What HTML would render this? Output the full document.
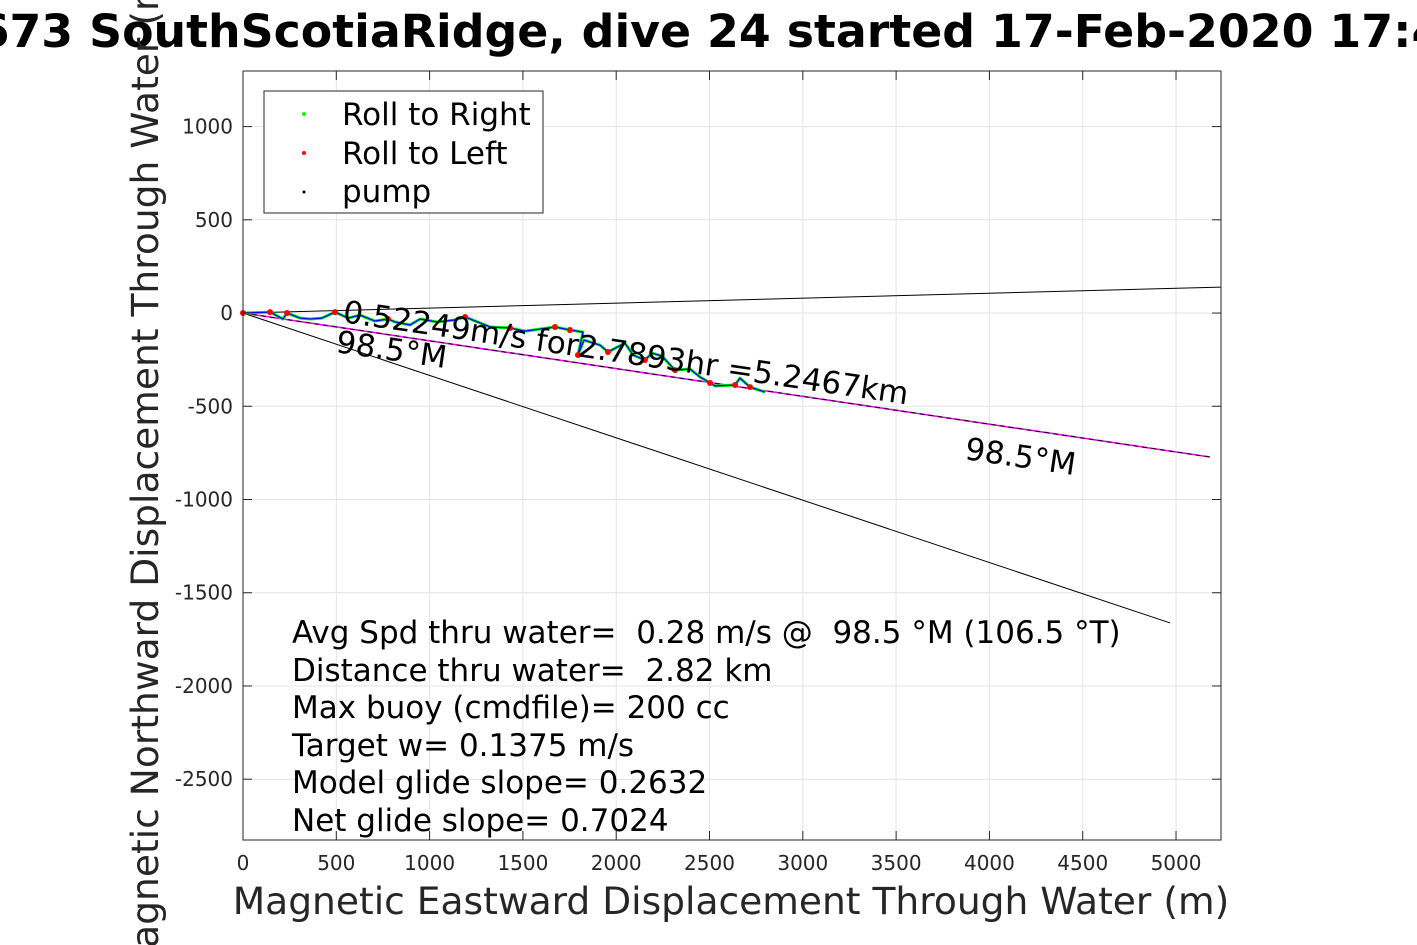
<!DOCTYPE html>
<html><head><meta charset="utf-8"><style>
html,body{margin:0;padding:0;background:#fff;overflow:hidden;}
svg{display:block;font-family:"DejaVu Sans","Liberation Sans",sans-serif;}
.pre{white-space:pre;}
</style></head><body>
<svg id="chart" width="1417" height="945" viewBox="0 0 1417 945">
<g id="grid"></g>
<g id="lines"></g>
<g id="track"></g>
<rect x="243" y="71" width="978" height="769" fill="none" stroke="#262626" stroke-width="1"/>
<g id="xticks"></g>
<g id="yticks"></g>
<text x="-93" y="47" font-size="45.8" font-weight="bold">SG673 SouthScotiaRidge, dive 24 started 17-Feb-2020 17:42</text>
<text x="731" y="914" font-size="37.6" fill="#262626" text-anchor="middle">Magnetic Eastward Displacement Through Water (m)</text>
<text transform="translate(158,470) rotate(-90)" font-size="37.6" fill="#262626" text-anchor="middle">Magnetic Northward Displacement Through Water (m)</text>
<text transform="translate(342,322) rotate(8.3)" font-size="31">0.52249m/s for2.7893hr =5.2467km</text>
<text transform="translate(335,352) rotate(8.3)" font-size="31">98.5°M</text>
<text transform="translate(964,459) rotate(8.3)" font-size="31">98.5°M</text>
<g>
<rect x="264" y="91" width="279" height="122" fill="#fff" stroke="#262626" stroke-width="1"/>
<circle cx="304" cy="114" r="2" fill="#0f0"/>
<text x="342" y="125" font-size="31">Roll to Right</text>
<circle cx="304" cy="153" r="2" fill="#f00"/>
<text x="342" y="164" font-size="31">Roll to Left</text>
<circle cx="304" cy="192" r="1.5" fill="#000"/>
<text x="342" y="202" font-size="31">pump</text>
</g>
<g font-size="31" class="pre">
<text x="292" y="643" class="pre">Avg Spd thru water=  0.28 m/s @  98.5 °M (106.5 °T)</text>
<text x="292" y="681" class="pre">Distance thru water=  2.82 km</text>
<text x="292" y="718" class="pre">Max buoy (cmdfile)= 200 cc</text>
<text x="292" y="756" class="pre">Target w= 0.1375 m/s</text>
<text x="292" y="793" class="pre">Model glide slope= 0.2632</text>
<text x="292" y="831" class="pre">Net glide slope= 0.7024</text>
</g>
</svg>
<script>
const xTicks=[0,500,1000,1500,2000,2500,3000,3500,4000,4500,5000];
const yTicks=[1000,500,0,-500,-1000,-1500,-2000,-2500];
const trackX=[0,145,214,236,305,359,423,493,563,627,707,777,815,895,949,1040,1136,1190,1324,1431,1511,1672,1752,1822,1795,1827,1913,1956,2047,2090,2154,2192,2245,2315,2395,2449,2503,2530,2637,2663,2717,2797];
const trackY=[0,5,-32,0,-27,-32,-27,5,-27,-11,-43,-32,-48,-64,-32,-48,-37,-21,-75,-80,-97,-75,-91,-102,-225,-145,-172,-209,-161,-225,-252,-215,-231,-306,-300,-343,-375,-391,-386,-349,-397,-424];
const redIdx=[0,1,3,7,11,17,19,21,22,24,27,30,33,36,38,40];
const lineEnds=[[5241,139],[5182,-772],[4968,-1662]];
const NS="http://www.w3.org/2000/svg";
const X0=243,X1=1221,Y0=840,Y1=71,xmin=0,xmax=5241,ymin=-2826,ymax=1298;
const sx=v=>X0+(v-xmin)/(xmax-xmin)*(X1-X0);
const sy=v=>Y0-(v-ymin)/(ymax-ymin)*(Y0-Y1);
function mk(t,a,p){const e=document.createElementNS(NS,t);for(const k in a)e.setAttribute(k,a[k]);p.appendChild(e);return e;}
const grid=document.getElementById('grid'),xt=document.getElementById('xticks'),yt=document.getElementById('yticks');
xTicks.forEach(v=>{
 const g=mk('line',{x1:sx(v),x2:sx(v),y1:Y1,y2:Y0,stroke:'#e3e3e3'},grid);
 
 
 const tk=mk('line',{x1:sx(v),x2:sx(v),y1:Y0,y2:Y0-9,stroke:'#262626'},xt);
 
 
 const tk2=mk('line',{x1:sx(v),x2:sx(v),y1:Y1,y2:Y1+9,stroke:'#262626'},xt);
 
 
 const t=mk('text',{x:sx(v),y:870,'font-size':20,fill:'#262626','text-anchor':'middle'},xt);
 t.textContent=v;
 
 
});
yTicks.forEach(v=>{
 const g=mk('line',{x1:X0,x2:X1,y1:sy(v),y2:sy(v),stroke:'#e3e3e3'},grid);
 
 
 const tk=mk('line',{x1:X0,x2:X0+9,y1:sy(v),y2:sy(v),stroke:'#262626'},yt);
 
 
 const tk2=mk('line',{x1:X1,x2:X1-9,y1:sy(v),y2:sy(v),stroke:'#262626'},yt);
 
 
 const t=mk('text',{x:233,y:sy(v)+7,'font-size':20,fill:'#262626','text-anchor':'end'},yt);
 t.textContent=v;
 
 
});
const ln=document.getElementById('lines');
lineEnds.forEach((e,i)=>{
 if(i===1){const m=mk('line',{x1:sx(0),y1:sy(0),x2:sx(e[0]),y2:sy(e[1]),stroke:'#f0f',"stroke-width":1.6},ln);
 
 }
 const l=mk('line',{x1:sx(0),y1:sy(0),x2:sx(e[0]),y2:sy(e[1]),stroke:'#000',"stroke-width":1,"stroke-dasharray":i===1?'5,4':'none'},ln);
 
 
});
const tr=document.getElementById('track');
const pts=trackX.map((x,i)=>sx(x)+','+sy(trackY[i])).join(' ');
const gp=mk('polyline',{points:pts,fill:'none',stroke:'#0f0','stroke-width':3,'stroke-linejoin':'round'},tr);


const bp=mk('polyline',{points:pts,fill:'none',stroke:'#00f','stroke-width':1.3,'stroke-linejoin':'round'},tr);


redIdx.forEach(i=>{
 const c=mk('circle',{cx:sx(trackX[i]),cy:sy(trackY[i]),r:3,fill:'#f00'},tr);
 
 
});
</script>
</body></html>
